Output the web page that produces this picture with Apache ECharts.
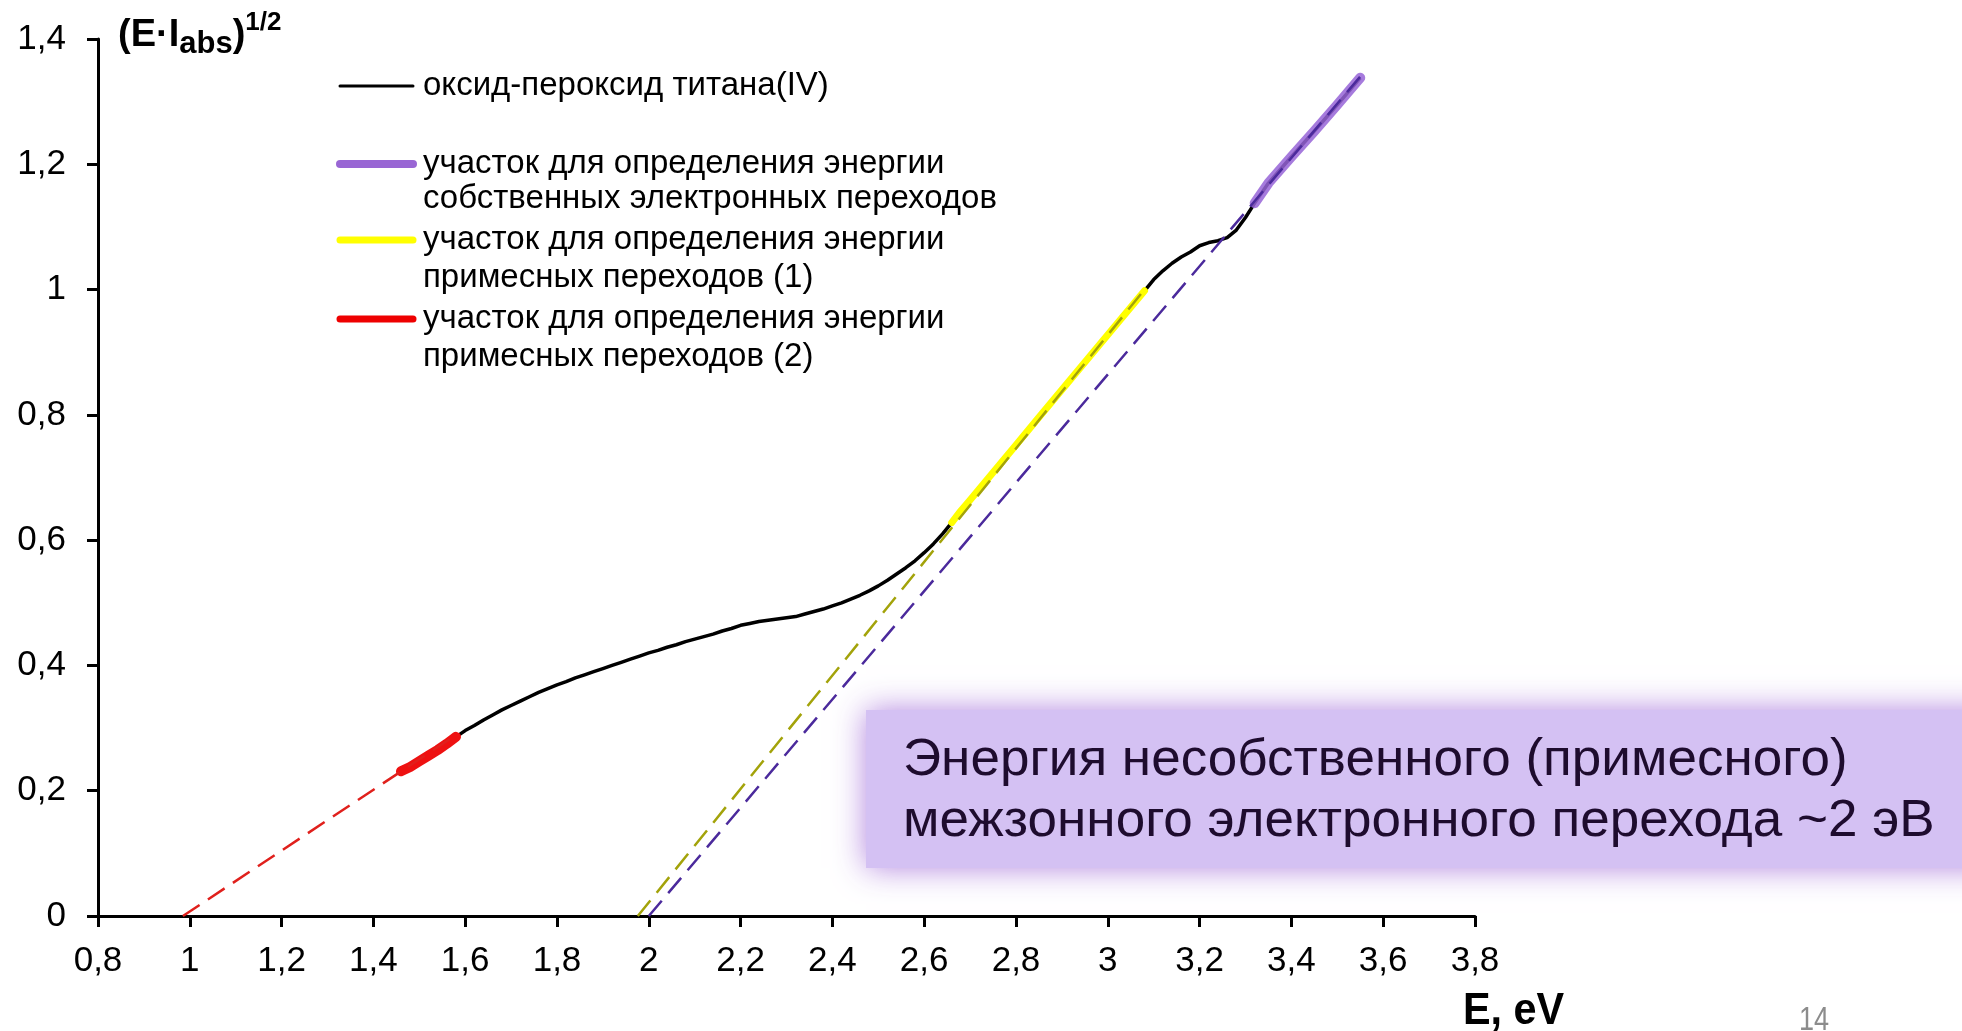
<!DOCTYPE html>
<html>
<head>
<meta charset="utf-8">
<title>Оксид-пероксид титана(IV)</title>
<script src="https://cdn.jsdelivr.net/npm/echarts@6/dist/echarts.min.js"></script>
<style>
  html, body { margin: 0; padding: 0; background: #ffffff; }
  #chart { width: 1962px; height: 1031px; }
</style>
</head>
<body>
<div id="chart"></div>
<script>
// Photon energy, eV
const energy = [
  1.46, 1.48, 1.50, 1.52, 1.54, 1.56, 1.58, 1.60, 1.62, 1.64, 1.66, 1.68, 1.70,
  1.72, 1.74, 1.76, 1.78, 1.80, 1.82, 1.84, 1.86, 1.88, 1.90, 1.92, 1.94, 1.96,
  1.98, 2.00, 2.02, 2.04, 2.06, 2.08, 2.10, 2.12, 2.14, 2.16, 2.18, 2.20, 2.22,
  2.24, 2.26, 2.28, 2.30, 2.32, 2.34, 2.36, 2.38, 2.40, 2.42, 2.44, 2.46, 2.48,
  2.50, 2.52, 2.54, 2.56, 2.58, 2.60, 2.62, 2.64, 2.66, 2.68, 2.70, 2.75, 2.80,
  2.85, 2.90, 2.95, 3.00, 3.04, 3.08, 3.10, 3.12, 3.14, 3.16, 3.18, 3.20, 3.22,
  3.24, 3.26, 3.28, 3.30, 3.32, 3.35, 3.40, 3.45, 3.50, 3.55
];
// (E·I_abs)^1/2 for the titanium(IV) oxide-peroxide sample
const tauc = [
  0.231, 0.238, 0.247, 0.256, 0.265, 0.275, 0.286, 0.296, 0.304, 0.313, 0.321, 0.329, 0.336,
  0.343, 0.350, 0.357, 0.363, 0.369, 0.374, 0.380, 0.385, 0.390, 0.395, 0.400, 0.405, 0.410,
  0.415, 0.420, 0.424, 0.429, 0.433, 0.438, 0.442, 0.446, 0.450, 0.455, 0.459, 0.464, 0.467,
  0.470, 0.472, 0.474, 0.476, 0.478, 0.482, 0.486, 0.490, 0.495, 0.500, 0.506, 0.512, 0.519,
  0.527, 0.536, 0.546, 0.556, 0.567, 0.580, 0.594, 0.610, 0.628, 0.647, 0.664, 0.708, 0.752,
  0.796, 0.840, 0.884, 0.928, 0.963, 0.998, 1.016, 1.030, 1.042, 1.052, 1.060, 1.070, 1.075,
  1.078, 1.083, 1.095, 1.115, 1.138, 1.170, 1.212, 1.253, 1.295, 1.338
];

// Energy ranges used for the linear fits
const rangeIntrinsic = [3.32, 3.55];   // собственные переходы
const rangeImpurity1 = [2.66, 3.08];   // примесные переходы (1)
const rangeImpurity2 = [1.46, 1.58];   // примесные переходы (2)

// Extrapolated fit lines: [E, value] end points
const fitImpurity2 = [[0.985, 0], [1.58, 0.289]];
const fitImpurity1 = [[1.976, 0], [3.08, 1.0]];
const fitIntrinsic = [[2.0, 0], [3.55, 1.34]];

// Axis ticks
const xTicks = { min: 0.8, max: 3.8, step: 0.2 };
const yTicks = { min: 0, max: 1.4, step: 0.2 };

// Texts
const legendTexts = [
  ['оксид-пероксид титана(IV)'],
  ['участок для определения энергии', 'собственных электронных переходов'],
  ['участок для определения энергии', 'примесных переходов (1)'],
  ['участок для определения энергии', 'примесных переходов (2)']
];
const noteLines = ['Энергия несобственного (примесного)', 'межзонного электронного перехода ~2 эВ'];

const FONT = '"Liberation Sans", Arial, sans-serif';

const curve = energy.map((e, i) => [e, tauc[i]]);
const slice = r => curve.filter(p => p[0] >= r[0] - 1e-9 && p[0] <= r[1] + 1e-9);

const fmt = v => String(+(+v).toFixed(1)).replace('.', ',');

const measureCtx = document.createElement('canvas').getContext('2d');
function textWidth(t, size, weight) {
  measureCtx.font = (weight || 'normal') + ' ' + size + 'px ' + FONT;
  return measureCtx.measureText(t).width;
}

// Axis name (E·I_abs)^1/2 built from pieces
const nameParts = [
  { t: '(E·I', size: 38, dy: 0 },
  { t: 'abs', size: 31, dy: 5 },
  { t: ')', size: 38, dy: 0 },
  { t: '1/2', size: 26, dy: -19 }
];
const graphics = [];
let nx = 118;
const nameBase = 55;
nameParts.forEach(p => {
  graphics.push({
    type: 'text', x: nx, y: nameBase + p.dy, z: 10,
    style: { text: p.t, fontSize: p.size, fontWeight: 'bold', fontFamily: FONT,
             fill: '#000', align: 'left', verticalAlign: 'bottom' }
  });
  nx += textWidth(p.t, p.size, 'bold');
});

// Legend
const legendStyles = [
  { color: '#000000', width: 3 },
  { color: '#9966d4', width: 8 },
  { color: '#ffff00', width: 7 },
  { color: '#ee0000', width: 7 }
];
const legendRows = [[86], [164, 199], [240, 278], [319, 357]];
legendTexts.forEach((lines, i) => {
  const y0 = legendRows[i][0];
  graphics.push({
    type: 'line', z: 10,
    shape: { x1: 340, y1: y0, x2: 413, y2: y0 },
    style: { stroke: legendStyles[i].color, lineWidth: legendStyles[i].width, lineCap: 'round' }
  });
  lines.forEach((t, j) => {
    graphics.push({
      type: 'text', x: 423, y: legendRows[i][j], scaleX: 1.0, z: 10,
      style: { text: t, fontSize: 33, fontFamily: FONT, fill: '#000',
               align: 'left', verticalAlign: 'middle' }
    });
  });
});

// Note box
graphics.push({
  type: 'rect', z: 5,
  shape: { x: 866, y: 710, width: 1140, height: 158 },
  style: { fill: '#d4c1f3', shadowBlur: 30, shadowColor: 'rgba(170,120,220,0.9)' }
});
noteLines.forEach((t, j) => {
  graphics.push({
    type: 'text', x: 903, y: 761 + j * 61, scaleX: 1.02, z: 6,
    style: { text: t, fontSize: 52, fontFamily: FONT, fill: '#1e0c2e',
             align: 'left', verticalAlign: 'middle' }
  });
});

// x axis name and slide number
graphics.push({
  type: 'text', x: 1463, y: 1012, scaleX: 0.94, z: 10,
  style: { text: 'E, eV', fontSize: 44, fontWeight: 'bold', fontFamily: FONT,
           fill: '#000', align: 'left', verticalAlign: 'middle' }
});
graphics.push({
  type: 'text', x: 1799, y: 1021, scaleX: 0.82, z: 10,
  style: { text: '14', fontSize: 33, fontFamily: FONT, fill: '#8c8c8c',
           align: 'left', verticalAlign: 'middle' }
});

const dashed = (data, color) => ({
  type: 'line', data, showSymbol: false, z: 4, silent: true,
  lineStyle: { color, width: 2.5, type: [20, 10] }
});
const thick = (data, color, width) => ({
  type: 'line', data, showSymbol: false, z: 3, silent: true,
  lineStyle: { color, width, cap: 'round', join: 'round' }
});

const axisCommon = {
  type: 'value',
  axisLine: { show: true, lineStyle: { color: '#000', width: 3 } },
  axisTick: { show: true, inside: false, length: 11, lineStyle: { color: '#000', width: 3 } },
  splitLine: { show: false },
  axisLabel: { color: '#000', fontSize: 35, fontFamily: FONT, formatter: fmt }
};

const option = {
  animation: false,
  backgroundColor: '#ffffff',
  grid: { left: 98, right: 487, top: 39, bottom: 115, containLabel: false },
  xAxis: Object.assign({}, axisCommon, {
    min: xTicks.min, max: xTicks.max, interval: xTicks.step,
    axisLabel: Object.assign({}, axisCommon.axisLabel, { margin: 28 })
  }),
  yAxis: Object.assign({}, axisCommon, {
    min: yTicks.min, max: yTicks.max, interval: yTicks.step,
    axisLabel: Object.assign({}, axisCommon.axisLabel, { margin: 32 })
  }),
  series: [
    { type: 'line', data: curve, showSymbol: false, z: 2, silent: true,
      lineStyle: { color: '#000', width: 3.5 } },
    thick(slice(rangeImpurity2), '#ee1111', 10),
    thick(slice(rangeImpurity1), '#ffff00', 7),
    thick(slice(rangeIntrinsic), 'rgba(150,100,215,0.85)', 10),
    dashed(fitImpurity2, '#e0201c'),
    dashed(fitImpurity1, '#a3a30a'),
    dashed(fitIntrinsic, '#4b2a9c')
  ],
  graphic: graphics
};

const chart = echarts.init(document.getElementById('chart'), null, { renderer: 'canvas' });
chart.setOption(option);
</script>
</body>
</html>
